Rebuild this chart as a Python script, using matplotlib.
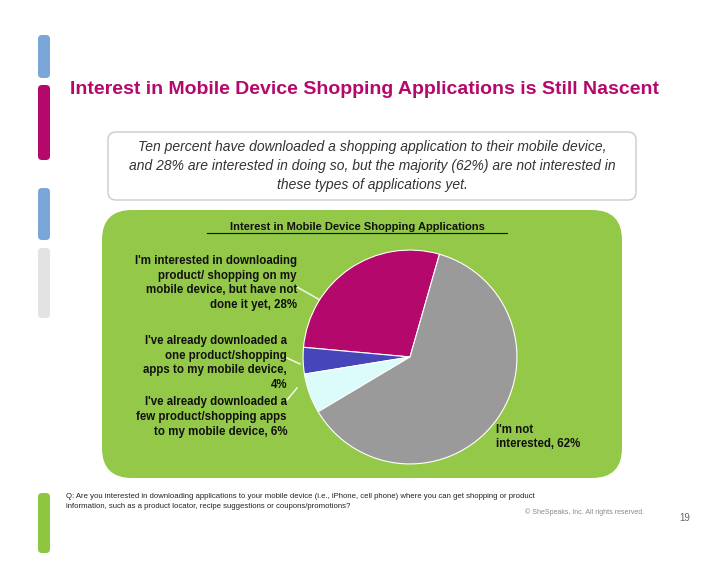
import matplotlib
matplotlib.use("Agg")
import matplotlib.pyplot as plt
from matplotlib.patches import FancyBboxPatch

labels = ["interested, not yet", "downloaded one", "downloaded few", "not interested"]
values = [28, 4, 6, 62]
colors = ["#b5086c", "#4646b8", "#dcfbfb", "#9a9a9a"]

W, H = 728, 563
fig = plt.figure(figsize=(W/100, H/100), dpi=100)
bg = fig.add_axes([0, 0, 1, 1])
bg.set_xlim(0, W); bg.set_ylim(H, 0); bg.axis("off")

for (y0, y1, c) in [(35, 78, "#7aa6d8"), (85, 160, "#b5086c"), (188, 240, "#7aa6d8"), (248, 318, "#e3e3e3"), (493, 553, "#8dc63f")]:
    bg.add_patch(FancyBboxPatch((38, y0), 12, y1-y0, boxstyle="round,pad=0,rounding_size=4", fc=c, ec="none"))

bg.text(70, 90, "Interest in Mobile Device Shopping Applications is Still Nascent",
        fontsize=14, fontweight="bold", color="#b5086c", va="center", ha="left", family="Liberation Sans")

bg.add_patch(FancyBboxPatch((108, 132), 528, 68, boxstyle="round,pad=0,rounding_size=8",
                            fc="white", ec="#cccccc", lw=1))
bg.text(372, 166, "Ten percent have downloaded a shopping application to their mobile device,\n"
        "and 28% are interested in doing so, but the majority (62%) are not interested in\n"
        "these types of applications yet.", fontsize=10, style="italic", color="#333333",
        ha="center", va="center", linespacing=1.5, family="Liberation Sans")

bg.add_patch(FancyBboxPatch((102, 210), 520, 268, boxstyle="round,pad=0,rounding_size=30",
                            fc="#93c848", ec="none"))
bg.text(357, 227, "Interest in Mobile Device Shopping Applications", fontsize=8, fontweight="bold",
        ha="center", va="center", family="Liberation Sans", color="#111111")
bg.plot([207, 507], [233, 233], color="#111111", lw=0.8)

fs = 8.3
kw = dict(fontsize=fs, fontweight="bold", family="Liberation Sans", color="#111111", linespacing=1.3)
bg.text(297, 283, "I'm interested in downloading\nproduct/ shopping on my\nmobile device, but have not\ndone it yet, 28%",
        ha="right", va="center", **kw)
bg.text(287, 363, "I've already downloaded a\none product/shopping\napps to my mobile device,\n4%",
        ha="right", va="center", **kw)
bg.text(287, 417, "I've already downloaded a\nfew product/shopping apps\nto my mobile device, 6%",
        ha="right", va="center", **kw)
bg.text(496, 437, "I'm not\ninterested, 62%", ha="left", va="center", **kw)
bg.plot([297, 320], [287, 300], color="#e8f4dc", lw=1.2)
bg.plot([287, 300], [358, 364], color="#e8f4dc", lw=1.2)
bg.plot([287, 297], [400, 388], color="#e8f4dc", lw=1.2)

bg.text(66, 502, "Q: Are you interested in downloading applications to your mobile device (i.e., iPhone, cell phone) where you can get shopping or product\n"
        "information, such as a product locator, recipe suggestions or coupons/promotions?",
        fontsize=5.6, ha="left", va="center", color="#222222", linespacing=1.6, family="Liberation Sans")
bg.text(525, 514, "© SheSpeaks, Inc. All rights reserved.", fontsize=5, color="#888888", family="Liberation Sans")
bg.text(690, 521, "19", fontsize=7, color="#666666", ha="right", family="Liberation Sans")

pa = fig.add_axes([302/W, (H-465)/H, 216/W, 216/H])
pa.pie(values, colors=colors, startangle=74, counterclock=True,
       wedgeprops=dict(edgecolor="white", linewidth=0.8))
pa.set_xlim(-1.01, 1.01); pa.set_ylim(-1.01, 1.01)
pa.set_aspect("equal")

fig.savefig("out.png", dpi=100)
